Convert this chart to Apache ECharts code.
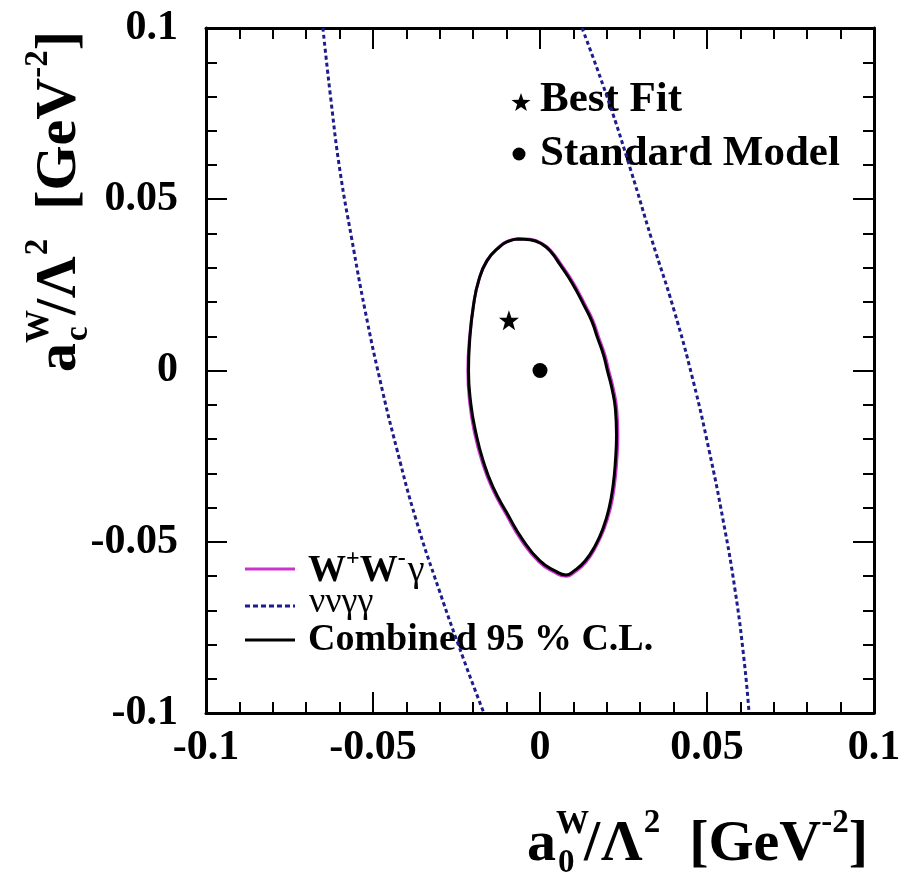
<!DOCTYPE html>
<html>
<head>
<meta charset="utf-8">
<title>a0W vs acW 95% C.L. contours</title>
<script src="https://cdn.jsdelivr.net/npm/echarts@6/dist/echarts.min.js"></script>
<style>
  html, body { margin: 0; padding: 0; background: #ffffff; }
  #chart { width: 910px; height: 874px; }
</style>
</head>
<body>
<div id="chart"></div>
<script>
// ---- data (units: GeV^-2) ----
const tickValues = [-0.1, -0.05, 0, 0.05, 0.1];
const xTickLabels = ['-0.1', '-0.05', '0', '0.05', '0.1'];
const yTickLabels = ['-0.1', '-0.05', '0', '0.05', '0.1'];

// combined 95% C.L. contour, [a0W, acW], traced clockwise from the top
const combinedContour = [
  [-0.0066, 0.0384], [-0.0030, 0.0382], [0.0006, 0.0369], [0.0033, 0.0346], [0.0060, 0.0309],
  [0.0085, 0.0273], [0.0110, 0.0231], [0.0133, 0.0188], [0.0155, 0.0144], [0.0172, 0.0096],
  [0.0190, 0.0046], [0.0202, -0.0001], [0.0215, -0.0051], [0.0226, -0.0115], [0.0229, -0.0188],
  [0.0226, -0.0261], [0.0219, -0.0334], [0.0207, -0.0401], [0.0189, -0.0460], [0.0165, -0.0512],
  [0.0135, -0.0556], [0.0102, -0.0585], [0.0078, -0.0597], [0.0045, -0.0585], [0.0000, -0.0556],
  [-0.0051, -0.0495], [-0.0099, -0.0416], [-0.0141, -0.0340], [-0.0171, -0.0261], [-0.0192, -0.0182],
  [-0.0207, -0.0098], [-0.0214, -0.0001], [-0.0210, 0.0095], [-0.0199, 0.0191], [-0.0184, 0.0261],
  [-0.0159, 0.0320], [-0.0120, 0.0362], [-0.0093, 0.0378], [-0.0066, 0.0384]
];

// W+W-gamma channel contour
const wwgContour = [
  [-0.0066, 0.0385], [-0.0030, 0.0383], [0.0007, 0.0370], [0.0035, 0.0347], [0.0063, 0.0310],
  [0.0089, 0.0273], [0.0114, 0.0231], [0.0137, 0.0188], [0.0159, 0.0144], [0.0176, 0.0096],
  [0.0194, 0.0046], [0.0206, -0.0001], [0.0219, -0.0051], [0.0230, -0.0115], [0.0233, -0.0188],
  [0.0230, -0.0261], [0.0223, -0.0334], [0.0211, -0.0401], [0.0192, -0.0462], [0.0167, -0.0515],
  [0.0137, -0.0560], [0.0103, -0.0589], [0.0078, -0.0601], [0.0043, -0.0589], [-0.0003, -0.0559],
  [-0.0055, -0.0497], [-0.0103, -0.0417], [-0.0145, -0.0340], [-0.0175, -0.0261], [-0.0196, -0.0182],
  [-0.0210, -0.0098], [-0.0216, -0.0001], [-0.0211, 0.0095], [-0.0199, 0.0191], [-0.0184, 0.0261],
  [-0.0159, 0.0320], [-0.0120, 0.0363], [-0.0093, 0.0379], [-0.0066, 0.0385]
];

// nu nu gamma gamma channel: two open bands
const nnggLeft = [
  [-0.0650, 0.1000], [-0.0626, 0.0790], [-0.0599, 0.0584], [-0.0563, 0.0381], [-0.0524, 0.0177],
  [-0.0479, -0.0028], [-0.0428, -0.0232], [-0.0371, -0.0436], [-0.0302, -0.0641], [-0.0228, -0.0845],
  [-0.0168, -0.1000]
];
const nnggRight = [
  [0.0126, 0.1000], [0.0204, 0.0790], [0.0272, 0.0584], [0.0335, 0.0381], [0.0401, 0.0177],
  [0.0458, -0.0028], [0.0506, -0.0232], [0.0548, -0.0436], [0.0584, -0.0641], [0.0611, -0.0845],
  [0.0626, -0.1000]
];

const bestFit = [[-0.0093, 0.0147]];
const standardModel = [[0, 0]];

// ---- styling helpers ----
const FONT = '"Liberation Serif", "Times New Roman", serif';
const BLACK = '#000000';
const MAGENTA = '#cc33cc';
const NAVY = '#1c1c8c';
const STAR = 'path://M0,-10L2.35,-3.24L9.51,-3.09L3.8,1.24L5.88,8.09L0,4L-5.88,8.09L-3.8,1.24L-9.51,-3.09L-2.35,-3.24Z';

const measureCtx = document.createElement('canvas').getContext('2d');
function fontStr(size, weight, style) {
  return (style || 'normal') + ' ' + (weight || 'bold') + ' ' + size + 'px ' + FONT;
}
function measure(t, size, weight, style) {
  measureCtx.font = fontStr(size, weight, style);
  return measureCtx.measureText(t).width;
}
// lay out a run of text pieces (with super/subscripts) on a common baseline
function textRun(segs, x0, base) {
  let x = x0;
  const out = [];
  segs.forEach(function (s) {
    const w = s.weight || 'bold';
    const st = s.style || 'normal';
    const xx = x + (s.dx || 0);
    out.push({
      type: 'text',
      x: xx,
      y: base + (s.dy || 0) - 0.31 * s.size,
      style: {
        text: s.t, font: fontStr(s.size, w, st), fill: BLACK,
        align: 'left', verticalAlign: 'middle', textAlign: 'left', textVerticalAlign: 'middle'
      }
    });
    if (s.advance !== false) x = xx + measure(s.t, s.size, w, st) + (s.gap || 0);
  });
  return out;
}

function labelFor(labels) {
  return function (v) {
    for (let i = 0; i < tickValues.length; i++) {
      if (Math.abs(v - tickValues[i]) < 1e-9) return labels[i];
    }
    return '';
  };
}

function makeAxis(position, labels, margin) {
  return {
    type: 'value',
    position: position,
    min: -0.1,
    max: 0.1,
    interval: 0.05,
    axisLine: { show: true, onZero: false, lineStyle: { color: BLACK, width: 3 } },
    axisTick: { show: true, inside: true, length: 21, lineStyle: { color: BLACK, width: 2 } },
    minorTick: { show: true, splitNumber: 5, length: 11, lineStyle: { color: BLACK, width: 2 } },
    splitLine: { show: false },
    minorSplitLine: { show: false },
    axisLabel: labels ? {
      show: true, color: BLACK, fontFamily: FONT, fontWeight: 'bold', fontSize: 42,
      margin: margin, showMinLabel: true, showMaxLabel: true, formatter: labelFor(labels)
    } : { show: false }
  };
}

// ---- axis titles ----
const SZ = 58, SUP = 33;
function titleSegs(sub) {
  return [
    { t: 'a', size: SZ },
    { t: sub, size: SUP, dy: 11, dx: 2, advance: false },
    { t: 'W', size: SUP, dy: -28, gap: -5 },
    { t: '/', size: SZ, gap: 1 },
    { t: '\u039B', size: SZ, gap: 1 },
    { t: '2', size: SUP, dy: -29, gap: 29 },
    { t: '[GeV', size: SZ },
    { t: '-2', size: SUP, dy: -29 },
    { t: ']', size: SZ }
  ];
}
const xTitle = textRun(titleSegs('0'), 527, 863);
const yTitle = {
  type: 'group',
  x: 78,
  y: 372,
  rotation: Math.PI / 2,
  children: textRun(titleSegs('c'), 0, 0)
};

// ---- legend boxes ----
function starPoints(cx, cy, r) {
  const pts = [];
  for (let i = 0; i < 10; i++) {
    const a = -Math.PI / 2 + i * Math.PI / 5;
    const rr = i % 2 === 0 ? r : r * 0.4;
    pts.push([cx + rr * Math.cos(a), cy + rr * Math.sin(a)]);
  }
  return pts;
}

const markerLegend = [
  { type: 'polygon', shape: { points: starPoints(521, 103, 10) }, style: { fill: BLACK } },
  { type: 'circle', shape: { cx: 519, cy: 154, r: 6.5 }, style: { fill: BLACK } }
].concat(
  textRun([{ t: 'Best Fit', size: 43 }], 540, 113),
  textRun([{ t: 'Standard Model', size: 43 }], 540, 167)
);

const lineLegend = [
  { type: 'line', shape: { x1: 245, y1: 569, x2: 295, y2: 569 }, style: { stroke: MAGENTA, lineWidth: 3 } },
  { type: 'line', shape: { x1: 245, y1: 606, x2: 295, y2: 606 }, style: { stroke: NAVY, lineWidth: 3, lineDash: [5, 3] } },
  { type: 'line', shape: { x1: 245, y1: 640, x2: 295, y2: 640 }, style: { stroke: BLACK, lineWidth: 3 } }
].concat(
  textRun([
    { t: 'W', size: 38 },
    { t: '+', size: 24, dy: -17 },
    { t: 'W', size: 38 },
    { t: '-', size: 24, dy: -17, gap: 2 },
    { t: '\u03B3', size: 38, weight: 'normal' }
  ], 308, 583),
  textRun([{ t: '\u03BD\u03BD\u03B3\u03B3', size: 36, weight: 'normal' }], 309, 614),
  textRun([{ t: 'Combined 95 % C.L.', size: 38 }], 308, 652)
);

// ---- chart ----
const chart = echarts.init(document.getElementById('chart'), null, { renderer: 'canvas' });
chart.setOption({
  animation: false,
  backgroundColor: '#ffffff',
  grid: { left: 206, right: 36, top: 28, bottom: 161, containLabel: false },
  xAxis: [
    makeAxis('bottom', xTickLabels, 14),
    makeAxis('top', null, 0)
  ],
  yAxis: [
    makeAxis('left', yTickLabels, 28),
    makeAxis('right', null, 0)
  ],
  series: [
    {
      name: 'nngg-left', type: 'line', data: nnggLeft, smooth: 0.5, showSymbol: false,
      lineStyle: { color: NAVY, width: 3, type: [4, 3] }, z: 2
    },
    {
      name: 'nngg-right', type: 'line', data: nnggRight, smooth: 0.5, showSymbol: false,
      lineStyle: { color: NAVY, width: 3, type: [4, 3] }, z: 2
    },
    {
      name: 'WWg', type: 'line', data: wwgContour, smooth: 0.5, showSymbol: false,
      lineStyle: { color: MAGENTA, width: 3 }, z: 3
    },
    {
      name: 'Combined', type: 'line', data: combinedContour, smooth: 0.5, showSymbol: false,
      lineStyle: { color: BLACK, width: 3 }, z: 4
    },
    {
      name: 'Best Fit', type: 'scatter', data: bestFit, symbol: STAR, symbolSize: 20,
      itemStyle: { color: BLACK, opacity: 1 }, z: 5
    },
    {
      name: 'Standard Model', type: 'scatter', data: standardModel, symbol: 'circle', symbolSize: 15,
      itemStyle: { color: BLACK, opacity: 1 }, z: 5
    }
  ],
  graphic: [].concat(xTitle, [yTitle], markerLegend, lineLegend)
});
</script>
</body>
</html>
